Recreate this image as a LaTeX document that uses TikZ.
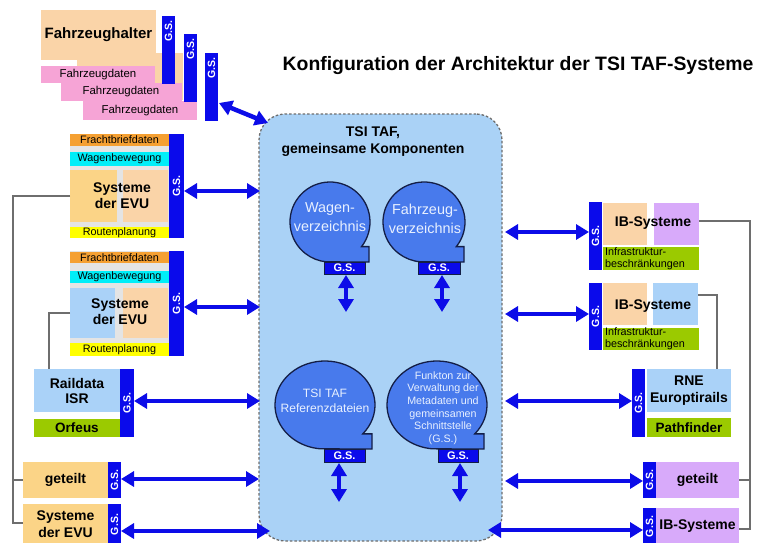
\documentclass[tikz,border=0pt]{standalone}
\usepackage{fontspec}
\setmainfont{Liberation Sans}
\usetikzlibrary{arrows.meta,calc}
\definecolor{gsblue}{RGB}{10,10,235}
\definecolor{arrblue}{RGB}{12,12,232}
\definecolor{corefill}{RGB}{170,210,246}
\definecolor{coreline}{RGB}{110,110,110}
\definecolor{bubfill}{RGB}{72,122,236}
\definecolor{bubline}{RGB}{20,30,70}
\definecolor{bubtext}{RGB}{232,240,255}
\definecolor{peach}{RGB}{250,212,168}
\definecolor{lorange}{RGB}{251,212,135}
\definecolor{pinkc}{RGB}{246,164,214}
\definecolor{orangec}{RGB}{245,160,50}
\definecolor{cyanc}{RGB}{0,238,248}
\definecolor{yellowc}{RGB}{255,255,0}
\definecolor{greenc}{RGB}{155,202,0}
\definecolor{purplec}{RGB}{216,170,250}
\definecolor{lblue}{RGB}{170,210,248}
\definecolor{grayback}{RGB}{228,228,228}
\definecolor{connc}{RGB}{110,110,110}
\tikzset{
  blk/.style={inner sep=0pt, outer sep=0pt, draw=none, align=center},
  sz/.style 2 args={minimum width=#1pt, minimum height=#2pt},
  bar/.style={blk, font=\fontsize{10.8}{12}\selectfont},
  boldlab/.style={blk, font=\fontsize{14}{16}\selectfont\bfseries},
  gsbar/.style={blk, fill=gsblue, text=white, font=\fontsize{10.5}{12}\selectfont\bfseries},
  gslab/.style={inner sep=0pt, text=white, font=\fontsize{10.5}{12}\selectfont\bfseries},
  gstop/.style={label={[gslab,anchor=north,yshift=-4pt]north:\rotatebox{90}{G.S.}}},
  gsbub/.style={blk, fill=gsblue, draw=bubline, line width=1pt, text=white, font=\fontsize{11}{12}\selectfont\bfseries},
  bubble/.style={fill=bubfill, draw=bubline, line width=1.3pt},
  bubtxt/.style={blk, text=bubtext},
  dbl/.style={draw=arrblue, line width=4.5pt, arrows={Triangle[width=15pt,length=13pt]-Triangle[width=15pt,length=13pt]}},
  conn/.style={draw=connc, line width=1.2pt},
  greenbar/.style={blk, fill=greenc, font=\fontsize{10.8}{12}\selectfont, inner xsep=2pt, text width=92pt, align=left},
}
\newcommand{\bubbleshape}[6]{%
  \filldraw[bubble, shift={(#1,-#2)}] (#5:#3pt and #4pt) arc[start angle=#5, end angle=265, x radius=#3pt, y radius=#4pt] -- (#6pt,-#4pt) -- ({#6},{#4*sin(#5)}) -- cycle;}
\begin{document}
\begin{tikzpicture}[x=1pt,y=1pt]
\fill[white] (0,0) rectangle (757,-543);
\useasboundingbox (0,0) rectangle (757,-543);

% title
\node[blk, font=\fontsize{19.4}{23}\selectfont\bfseries] (ttl) at (518,-66) {Konfiguration der Architektur der TSI TAF-Systeme};

% core box
\node[blk, fill=corefill, draw=coreline, dash pattern=on 2.5pt off 2pt, line width=1.3pt, rounded corners=26pt, sz={243}{427}] (core) at (380.5,-327.5) {};
\node[blk, font=\fontsize{14}{17}\selectfont\bfseries] (coret) at (373,-141.5) {TSI TAF,\\gemeinsame Komponenten};

% bubbles
\bubbleshape{330}{222}{40}{40}{-38}{39}
\bubbleshape{424}{222}{41}{40}{-38}{40}
\bubbleshape{325}{405}{50}{44}{-41}{47}
\bubbleshape{437}{405}{50}{44}{-41}{47}
\node[bubtxt, font=\fontsize{14.4}{19}\selectfont] (b1t) at (330,-217) {Wagen-\\verzeichnis};
\node[bubtxt, font=\fontsize{14.4}{19}\selectfont] (b2t) at (425,-219) {Fahrzeug-\\verzeichnis};
\node[bubtxt, font=\fontsize{12.1}{14.5}\selectfont] (b3t) at (325,-401) {TSI TAF\\Referenzdateien};
\node[bubtxt, font=\fontsize{10.7}{12.6}\selectfont] (b4t) at (443,-408) {Funkton zur\\Verwaltung der\\Metadaten und\\gemeinsamen\\Schnittstelle\\(G.S.)};
\node[gsbub, sz={41}{12}] (gsb1) at (344.5,-268) {G.S.};
\node[gsbub, sz={42}{12}] (gsb2) at (439,-268) {G.S.};
\node[gsbub, sz={41}{13}] (gsb3) at (344.5,-455.5) {G.S.};
\node[gsbub, sz={40}{13}] (gsb4) at (458,-455.5) {G.S.};
\draw[dbl] ($(gsb1.south)+(1.5,-1)$) -- ++(0,-37);
\draw[dbl] ($(gsb2.south)+(3,-1)$) -- ++(0,-37);
\draw[dbl] ($(gsb3.south)+(-5.5,-1)$) -- ++(0,-39);
\draw[dbl] ($(gsb4.south)+(2,-1)$) -- ++(0,-39);

% Fahrzeughalter group
\node[blk, fill=peach, sz={106}{47}] (fhB) at (130,-76.5) {};
\node[blk, fill=peach, sz={115}{50}, font=\fontsize{15}{17}\selectfont\bfseries] (fhA) at (98.5,-35) {Fahrzeughalter};
\node[bar, fill=pinkc, sz={114}{17}, font=\fontsize{11.4}{13}\selectfont] (fd1) at (98,-74.5) {Fahrzeugdaten};
\node[bar, fill=pinkc, sz={121}{18}, font=\fontsize{11.4}{13}\selectfont] (fd2) at (121,-92) {Fahrzeugdaten};
\node[bar, fill=pinkc, sz={114}{19}, font=\fontsize{11.4}{13}\selectfont] (fd3) at (140,-110.5) {Fahrzeugdaten};
\node[gsbar, sz={13}{68}, gstop] (gsF1) at (168.5,-50) {};
\node[gsbar, sz={13}{68}, gstop] (gsF2) at (190.5,-68) {};
\node[gsbar, sz={13}{68}, gstop] (gsF3) at (211.5,-87) {};

% EVU group 1
\node[blk, fill=grayback, sz={99}{104}] (evu1bg) at (119.5,-186) {};
\node[bar, fill=orangec, sz={99}{12}] (fb1) at (119.5,-140) {Frachtbriefdaten};
\node[bar, fill=cyanc, sz={99}{14}] (wb1) at (119.5,-159) {Wagenbewegung};
\node[blk, fill=lorange, sz={47}{52}] (sys1a) at (93.5,-196) {};
\node[blk, fill=peach, sz={45}{52}] (sys1b) at (145.5,-196) {};
\node[boldlab] (sys1t) at (122,-196) {Systeme\\der EVU};
\node[bar, fill=yellowc, sz={99}{11}] (rp1) at (119.5,-232.5) {Routenplanung};
\node[gsbar, sz={15}{104}] (gsE1) at (176.5,-186) {\rotatebox{90}{G.S.}};

% EVU group 2
\node[blk, fill=grayback, sz={99}{105}] (evu2bg) at (119.5,-303.5) {};
\node[bar, fill=orangec, sz={99}{11}] (fb2) at (119.5,-257.5) {Frachtbriefdaten};
\node[bar, fill=cyanc, sz={99}{12}] (wb2) at (119.5,-277) {Wagenbewegung};
\node[blk, fill=lblue, sz={45}{50}] (sys2a) at (92.5,-313) {};
\node[blk, fill=peach, sz={45}{50}] (sys2b) at (145.5,-313) {};
\node[boldlab] (sys2t) at (120,-312) {Systeme\\der EVU};
\node[bar, fill=yellowc, sz={99}{13}] (rp2) at (119.5,-349.5) {Routenplanung};
\node[gsbar, sz={15}{105}] (gsE2) at (176.5,-303.5) {\rotatebox{90}{G.S.}};

% Raildata
\node[boldlab, fill=lblue, sz={86}{43}, font=\fontsize{14}{15}\selectfont\bfseries] (rail) at (77,-390.5) {Raildata\\ISR};
\node[boldlab, fill=greenc, sz={86}{18}, font=\fontsize{13.5}{15}\selectfont\bfseries] (orf) at (77,-428) {Orfeus};
\node[gsbar, sz={14}{68}] (gsR) at (127,-403) {\rotatebox{90}{G.S.}};

% geteilt left
\node[boldlab, fill=lorange, sz={85}{36}] (gtL) at (65.5,-480) {geteilt};
\node[gsbar, sz={13}{36}] (gsG) at (114.5,-480) {\rotatebox{90}{G.S.}};

% Systeme der EVU bottom left
\node[boldlab, fill=lorange, sz={85}{41}, font=\fontsize{14}{17}\selectfont\bfseries] (sysL) at (65.5,-524.5) {Systeme\\der EVU};
\node[gsbar, sz={13}{41}] (gsS) at (114.5,-524.5) {\rotatebox{90}{G.S.}};

% IB group 1
\node[gsbar, sz={13}{68}] (gsI1) at (595.5,-236) {\rotatebox{90}{G.S.}};
\node[blk, fill=peach, sz={44}{42}] (ib1a) at (625,-224) {};
\node[blk, fill=purplec, sz={45}{42}] (ib1b) at (676.5,-224) {};
\node[boldlab] (ib1t) at (653,-223) {IB-Systeme};
\node[greenbar, sz={96}{23}] (ib1g) at (651,-258.5) {Infrastruktur-\\beschränkungen};

% IB group 2
\node[gsbar, sz={13}{67}] (gsI2) at (595.5,-316.5) {\rotatebox{90}{G.S.}};
\node[blk, fill=peach, sz={44}{42}] (ib2a) at (625,-304) {};
\node[blk, fill=lblue, sz={45}{42}] (ib2b) at (675.5,-304) {};
\node[boldlab] (ib2t) at (653,-306) {IB-Systeme};
\node[greenbar, sz={96}{22}] (ib2g) at (651,-339) {Infrastruktur-\\beschränkungen};

% RNE
\node[gsbar, sz={13}{68}] (gsN) at (638.5,-403) {\rotatebox{90}{G.S.}};
\node[boldlab, fill=lblue, sz={84}{43}, font=\fontsize{14}{17}\selectfont\bfseries] (rne) at (689,-390.5) {RNE\\Europtirails};
\node[boldlab, fill=greenc, sz={84}{19}, font=\fontsize{13.5}{15}\selectfont\bfseries] (pf) at (689,-427.5) {Pathfinder};

% geteilt right
\node[gsbar, sz={13}{36}] (gsGR) at (649.5,-480) {\rotatebox{90}{G.S.}};
\node[boldlab, fill=purplec, sz={83}{36}] (gtR) at (697.5,-480) {geteilt};

% IB-Systeme bottom right
\node[gsbar, sz={13}{37}] (gsIB) at (649.5,-526.5) {\rotatebox{90}{G.S.}};
\node[boldlab, fill=purplec, sz={83}{37}] (ibR) at (697.5,-526.5) {IB-Systeme};

% connector lines
\coordinate (lx1) at (13,0);
\coordinate (lx2) at (49,0);
\coordinate (rx1) at (750,0);
\coordinate (rx2) at (717,0);
\draw[conn] (sys1a.west) -| ($(lx1 |- sysL.west)+(0,1.5)$) -- ($(sysL.west)+(0,1.5)$);
\draw[conn] (gtL.west -| lx1) -- (gtL.west);
\draw[conn] (sys2a.west) -| (rail.north -| lx2);
\draw[conn] ([yshift=3pt]ib1b.east) -| ($(rx1 |- ibR.east)+(0,-2.5)$) -- ($(ibR.east)+(0,-2.5)$);
\draw[conn] (gtR.east) -- (gtR.east -| rx1);
\draw[conn] ([yshift=9pt]ib2b.east) -| (rne.north -| rx2);

% arrows
\draw[dbl] ($(gsF3.east)+(1,-16)$) -- ($(core.north west)+(9,-9)$);
\draw[dbl] ($(gsE1.east)+(0,-5)$) -- ($(core.west |- gsE1.east)+(1,-5)$);
\draw[dbl] ($(gsE2.east)+(0,-3.5)$) -- ($(core.west |- gsE2.east)+(1,-3.5)$);
\draw[dbl] ($(gsR.east)+(0,2)$) -- ($(core.west |- gsR.east)+(1,2)$);
\draw[dbl] ($(gsG.east)+(0,1)$) -- ($(core.west |- gsG.east)+(0,1)$);
\draw[dbl] ($(gsS.east)+(0,-6.5)$) -- ($(core.west |- gsS.east)+(11,-6.5)$);
\draw[dbl] ($(core.east |- gsI1.west)+(3,4)$) -- ($(gsI1.west)+(0,4)$);
\draw[dbl] ($(core.east |- gsI2.west)+(3,2.5)$) -- ($(gsI2.west)+(0,2.5)$);
\draw[dbl] ($(core.east |- gsN.west)+(3,2)$) -- ($(gsN.west)+(0,2)$);
\draw[dbl] ($(core.east |- gsGR.west)+(3,-1)$) -- ($(gsGR.west)+(0,-1)$);
\draw[dbl] ($(core.east |- gsIB.west)+(-14,-3.5)$) -- ($(gsIB.west)+(0,-3.5)$);
\end{tikzpicture}
\end{document}
